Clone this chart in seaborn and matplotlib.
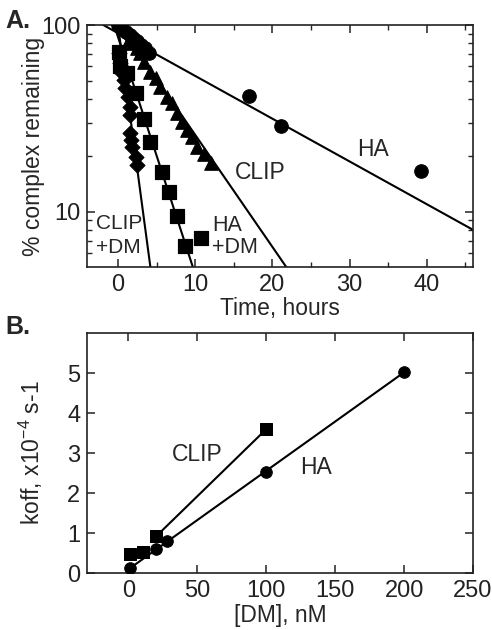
import numpy as np
import pandas as pd
import matplotlib
matplotlib.use("Agg")
import matplotlib.pyplot as plt
from matplotlib.ticker import LogLocator, NullFormatter, FixedLocator, MultipleLocator
import seaborn as sns

# ---- Panel A: dissociation time courses (hours, % complex remaining) ----
ha_t = [0.0, 0.5, 1.0, 1.5, 2.0, 2.5, 3.0, 3.5, 4.0, 17.0, 21.1, 39.2]
ha_y = [100, 95, 92, 88, 85, 82, 78, 75, 71, 41.7, 28.8, 16.5]

clip_t = [1.4, 2.0, 2.5, 2.9, 3.35, 4.2, 4.9, 5.5, 6.4, 7.0, 7.7, 8.3, 9.0, 9.6, 10.3, 11.2, 12.0]
clip_y = [83, 80, 75, 70.5, 63.6, 56.2, 51.9, 46.8, 41.3, 38.1, 33.6, 30.3, 27.4, 25.2, 22.3, 20.5, 18.2]

hadm_t = [0.1, 0.3, 1.2, 2.4, 3.35, 4.2, 5.7, 6.6, 7.7, 8.7, 10.7]
hadm_y = [72, 60, 55, 43, 31.5, 23.6, 16.3, 12.8, 9.5, 6.55, 7.26]

clipdm_t = [0.1, 0.3, 0.45, 0.75, 0.95, 1.3, 1.5, 1.6, 1.6, 1.75, 1.8, 2.3, 2.5]
clipdm_y = [70.5, 62.3, 56.2, 50.7, 45.8, 41.3, 36.5, 32.9, 26.3, 24.2, 22.3, 19.7, 17.8]

# fitted exponential decays, drawn between their end points
ha_fit_t, ha_fit_y = [-1.9, 46.0], [100, 8.0]
clip_fit_t, clip_fit_y = [0.2, 21.8], [100, 5.06]
hadm_fit_t, hadm_fit_y = [-0.5, 9.7], [100, 5.06]
clipdm_fit_t, clipdm_fit_y = [0.0, 4.2], [100, 5.06]

# ---- Panel B: koff vs [DM] ----
dm_clip = [1, 10.5, 20, 100]
koff_clip = [0.48, 0.54, 0.92, 3.6]
dm_ha = [1, 20, 28, 100, 200]
koff_ha = [0.13, 0.6, 0.8, 2.52, 5.02]

clip_line_dm, clip_line_k = [20, 100], [0.92, 3.6]
ha_line_dm, ha_line_k = [0, 200], [0.1, 5.02]

sns.set_theme(style="ticks")
plt.rcParams['font.family'] = ['Liberation Sans', 'DejaVu Sans']
plt.rcParams['mathtext.fontset'] = 'custom'
plt.rcParams['mathtext.rm'] = 'Liberation Sans'
plt.rcParams['axes.linewidth'] = 1.2
plt.rcParams['axes.edgecolor'] = '#222222'

fig = plt.figure(figsize=(4.92, 6.3), dpi=100)
axA = fig.add_axes([0.177, 0.5762, 0.7845, 0.3841])
axB = fig.add_axes([0.177, 0.09, 0.7845, 0.3814])

K = 'black'

# ---- Panel A ----
for ft, fy in [(ha_fit_t, ha_fit_y), (clip_fit_t, clip_fit_y),
               (hadm_fit_t, hadm_fit_y), (clipdm_fit_t, clipdm_fit_y)]:
    sns.lineplot(x=ft, y=fy, ax=axA, color=K, lw=1.5, sort=False)

sns.scatterplot(x=clipdm_t, y=clipdm_y, ax=axA, marker='D', s=60, color=K, edgecolor=K, zorder=3)
sns.scatterplot(x=hadm_t, y=hadm_y, ax=axA, marker='s', s=115, color=K, edgecolor=K, zorder=3)
sns.scatterplot(x=clip_t, y=clip_y, ax=axA, marker='^', s=95, color=K, edgecolor=K, zorder=3)
sns.scatterplot(x=ha_t, y=ha_y, ax=axA, marker='o', s=95, color=K, edgecolor=K, zorder=4)

axA.set_yscale('log')
axA.set_xlim(-4, 46)
axA.set_ylim(5.06, 100)
axA.xaxis.set_major_locator(FixedLocator([0, 10, 20, 30, 40]))
axA.xaxis.set_minor_locator(FixedLocator([5, 15, 25, 35, 45]))
axA.yaxis.set_major_locator(FixedLocator([10, 100]))
axA.yaxis.set_minor_locator(LogLocator(base=10, subs=np.arange(2, 10)))
axA.yaxis.set_minor_formatter(NullFormatter())
axA.set_yticklabels(['10', '100'])
axA.set_xlabel('Time, hours', fontsize=16.5, labelpad=1)
axA.set_ylabel('% complex remaining', fontsize=16.5)
axA.yaxis.set_label_coords(-0.11, 0.5)
axA.text(31.0, 20.0, 'HA', fontsize=16.5)
axA.text(15.2, 15.0, 'CLIP', fontsize=16.5)
axA.text(-2.8, 8.6, 'CLIP', fontsize=15, va='center')
axA.text(-2.8, 6.45, '+DM', fontsize=15, va='center')
axA.text(12.2, 8.4, 'HA', fontsize=15.5, va='center')
axA.text(12.2, 6.4, '+DM', fontsize=15.5, va='center')

# ---- Panel B ----
sns.lineplot(x=clip_line_dm, y=clip_line_k, ax=axB, color=K, lw=1.5)
sns.lineplot(x=ha_line_dm, y=ha_line_k, ax=axB, color=K, lw=1.5)
sns.scatterplot(x=dm_clip, y=koff_clip, ax=axB, marker='s', s=80, color=K, edgecolor=K, zorder=3)
sns.scatterplot(x=dm_ha, y=koff_ha, ax=axB, marker='o', s=70, color=K, edgecolor=K, zorder=4)

axB.set_xlim(-30, 250)
axB.set_ylim(0, 6)
axB.xaxis.set_major_locator(MultipleLocator(50))
axB.yaxis.set_major_locator(FixedLocator([0, 1, 2, 3, 4, 5]))
axB.set_xlabel('[DM], nM', fontsize=16.5, labelpad=1)
axB.set_ylabel(r'koff, x10$\mathregular{^{-4}}$ s-1', fontsize=16.5)
axB.yaxis.set_label_coords(-0.11, 0.5)
axB.text(50, 2.96, 'CLIP', fontsize=16.5, ha='center', va='center')
axB.text(136, 2.63, 'HA', fontsize=16.5, ha='center', va='center')

for ax in (axA, axB):
    ax.tick_params(which='major', direction='in', length=6, width=1.1,
                   top=True, right=True, labelsize=17, pad=5, colors='#222222')
    ax.tick_params(which='minor', direction='in', length=3.5, width=1.0,
                   top=True, right=True)
    for s in ax.spines.values():
        s.set_visible(True)

fig.text(0.01, 0.955, 'A.', fontsize=18, fontweight='bold')
fig.text(0.01, 0.47, 'B.', fontsize=18, fontweight='bold')

fig.savefig('out.png', dpi=100, facecolor='white')
